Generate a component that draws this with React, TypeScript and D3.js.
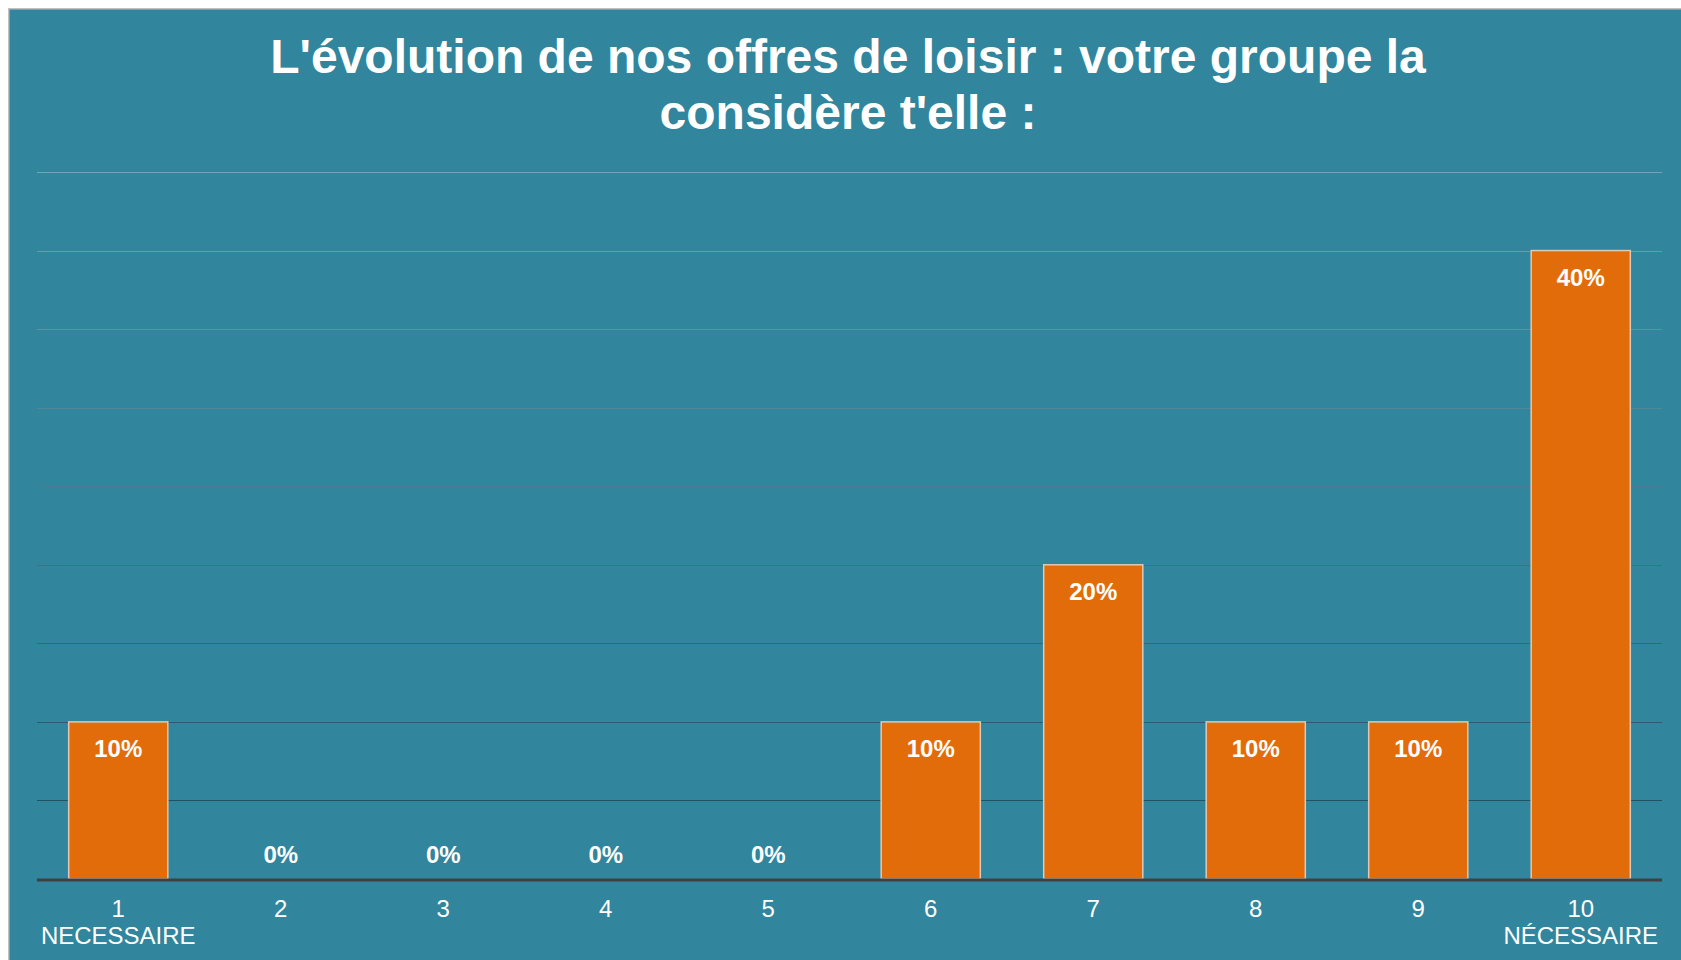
import React from "react";
import * as d3 from "d3";

const categories = ["1", "2", "3", "4", "5", "6", "7", "8", "9", "10"];
const subLabels = ["NECESSAIRE", "", "", "", "", "", "", "", "", "NÉCESSAIRE"];
const values = [0.1, 0, 0, 0, 0, 0.1, 0.2, 0.1, 0.1, 0.4];
const gridTicks = [0.05, 0.1, 0.15, 0.2, 0.25, 0.3, 0.35, 0.4, 0.45];
const titleLines = [
  "L'évolution de nos offres de loisir : votre groupe la",
  "considère t'elle :",
];

const W = 1673;
const H = 952;
const FONT = "'Liberation Sans', Arial, sans-serif";

export default function App() {
  const x = d3.scaleBand<string>().domain(categories).range([29, 1654]).paddingInner(0.39).paddingOuter(0.195);
  const y = d3.scaleLinear().domain([0, 0.45]).range([871, 164]);
  const gridColor = d3.scaleLinear<string>().domain([0.05, 0.45]).range(["#22525f", "#6fa7b7"]).interpolate(d3.interpolateRgb);
  const fmt = d3.format(".0%");
  const [x0, x1] = x.range();

  return (
    <div style={{ position: "fixed", left: 8, top: 8 }}>
      <svg width={W} height={H} style={{ display: "block" }}>
        <rect x={0.75} y={0.75} width={W + 10} height={H + 10} fill="#31859c" stroke="#c0c0c0" strokeWidth={1.5} />
        {titleLines.map((t, i) => (
          <text key={i} x={840} y={65 + i * 56} textAnchor="middle" fill="#ffffff" fontFamily={FONT} fontWeight="bold" fontSize={48}>
            {t}
          </text>
        ))}
        {gridTicks.map((t) => (
          <line key={t} x1={x0} x2={x1} y1={Math.round(y(t)) + 0.5} y2={Math.round(y(t)) + 0.5} stroke={gridColor(t)} strokeWidth={1.2} />
        ))}
        {categories.map((c, i) => {
          const v = values[i];
          const bx = x(c)!;
          const bw = x.bandwidth();
          return (
            <g key={c}>
              {v > 0 && (
                <rect x={bx} y={y(v)} width={bw} height={y(0) - y(v)} fill="#e36c0a" stroke="#dcc9b8" strokeWidth={1.5} />
              )}
              <text
                x={bx + bw / 2}
                y={v > 0 ? y(v) + 35 : y(0) - 16}
                textAnchor="middle"
                fill="#ffffff"
                fontFamily={FONT}
                fontWeight="bold"
                fontSize={24}
              >
                {fmt(v)}
              </text>
            </g>
          );
        })}
        <line x1={x0} x2={x1} y1={y(0) + 1} y2={y(0) + 1} stroke="#404040" strokeWidth={3} />
        {categories.map((c, i) => (
          <g key={"t" + c}>
            <text x={x(c)! + x.bandwidth() / 2} y={y(0) + 38} textAnchor="middle" fill="#ffffff" fontFamily={FONT} fontSize={24}>
              {c}
            </text>
            {subLabels[i] && (
              <text x={x(c)! + x.bandwidth() / 2} y={y(0) + 65} textAnchor="middle" fill="#ffffff" fontFamily={FONT} fontSize={24}>
                {subLabels[i]}
              </text>
            )}
          </g>
        ))}
      </svg>
    </div>
  );
}
